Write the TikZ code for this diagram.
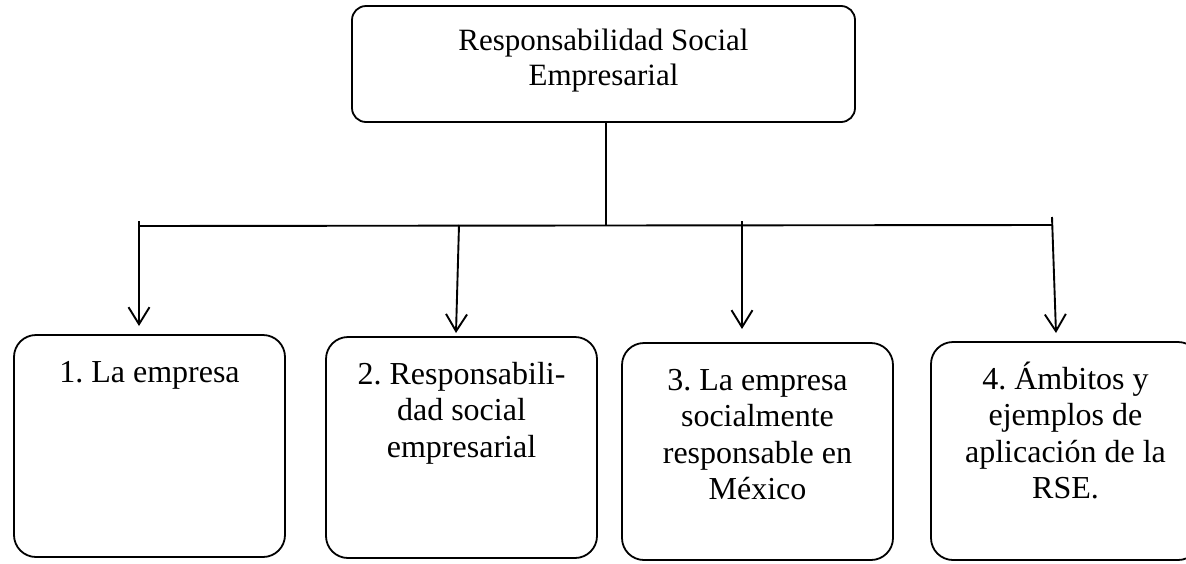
\documentclass[tikz,border=0pt]{standalone}
\usepackage{fontspec}
\setmainfont{Liberation Serif}
\usetikzlibrary{arrows.meta}
\frenchspacing

\tikzset{
  caja/.style={draw, line width=1.8pt, rounded corners=22pt, inner sep=0pt},
  cajasup/.style={caja, rounded corners=14pt},
  linea/.style={line width=1.9pt},
  flecha/.style={linea, -{Straight Barb[length=17pt,width=21pt]}}
}
% texto pegado arriba dentro de una caja de ancho y alto fijos
\newcommand{\textocaja}[3]{\parbox[c][#2][t]{#1}{\centering\fontsize{32}{36.5}\selectfont\rule{0pt}{47pt}#3}}

\begin{document}
\begin{tikzpicture}[x=1pt,y=-1pt]
        \useasboundingbox (0,0) rectangle (1186,563);

        % Caja superior
        \node[cajasup] (rse) at (603.5,64) {\parbox[c][116pt][t]{503pt}{\centering\fontsize{31}{35}\selectfont\rule{0pt}{44pt}Responsabilidad Social\\Empresarial}};

        % Temas
        \node[caja] (tema1) at (149.5,446) {\textocaja{271pt}{222pt}{1. La empresa}};
        \node[caja] (tema2) at (461.5,447.5) {\textocaja{271pt}{221pt}{2. Responsabili-\\dad social\\empresarial}};
        \node[caja] (tema3) at (757.5,451.5) {\textocaja{271pt}{217pt}{3. La empresa\\socialmente\\responsable en\\México}};
        \node[caja] (tema4) at (1065.5,451) {\textocaja{269pt}{218pt}{4. Ámbitos y\\ejemplos de\\aplicación de la\\RSE.}};

        % Puntos de la linea horizontal
        \coordinate (bus) at (606,225);
        \coordinate (izq) at (139,226);
        \coordinate (der) at (1052,225);

        % Salidas y puntas de flecha
        \coordinate (s1) at (139,221);
        \coordinate (s2) at (459,225);
        \coordinate (s3) at (742,221);
        \coordinate (s4) at (1052,217);
        \coordinate (p1) at (139,326);
        \coordinate (p2) at (456,333);
        \coordinate (p3) at (742,329);
        \coordinate (p4) at (1056,333);

        % Conectores
        \draw[linea] (rse.south -| bus) -- (bus);
        \draw[linea] (izq) -- (der);
        \draw[flecha] (s1) -- (p1);
        \draw[flecha] (s2) -- (p2);
        \draw[flecha] (s3) -- (p3);
        \draw[flecha] (s4) -- (p4);

\end{tikzpicture}
\end{document}
